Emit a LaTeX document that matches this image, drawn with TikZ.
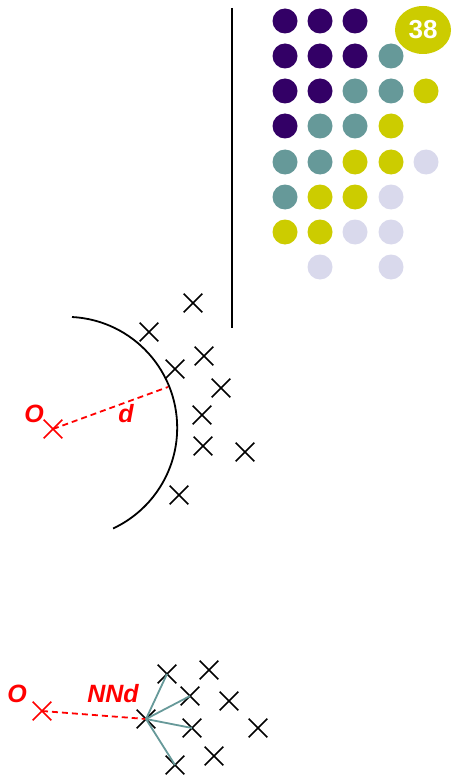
\documentclass[tikz,border=0pt]{standalone}
\usepackage{fontspec}
\setmainfont{Liberation Sans}
\usetikzlibrary{shapes.misc,shapes.geometric}
\definecolor{dpurple}{HTML}{330066}
\definecolor{dteal}{HTML}{669999}
\definecolor{dyellow}{HTML}{CCCC00}
\definecolor{dlav}{HTML}{D9D9EC}
\begin{document}
\begin{tikzpicture}[x=1pt,y=-1pt,
  xmark/.style={cross out, draw=black, line width=1.6pt, minimum size=17pt, inner sep=0pt},
  rmark/.style={cross out, draw=red, line width=1.6pt, minimum size=17pt, inner sep=0pt},
  dotP/.style={circle, fill=dpurple, minimum size=25pt, inner sep=0pt},
  dotT/.style={circle, fill=dteal, minimum size=25pt, inner sep=0pt},
  dotY/.style={circle, fill=dyellow, minimum size=25pt, inner sep=0pt},
  dotL/.style={circle, fill=dlav, minimum size=25pt, inner sep=0pt},
  redlab/.style={text=red, font=\fontsize{25}{25}\selectfont\bfseries\itshape, inner sep=0pt},
  reddash/.style={draw=red, line width=1.8pt, dash pattern=on 6pt off 4pt},
  tealline/.style={draw=dteal, line width=1.8pt},
  blackline/.style={draw=black, line width=1.8pt}
]
\useasboundingbox (0,0) rectangle (454,778);
% vertical line
\coordinate (vtop) at (232,8);
\coordinate (vbot) at (232,328);
\draw[blackline] (vtop) -- (vbot);
% dot grid
\node[dotP] (d11) at (285,21) {};
\node[dotP] (d12) at (320,21) {};
\node[dotP] (d13) at (355,21) {};
\node[dotP] (d21) at (285,56) {};
\node[dotP] (d22) at (320,56) {};
\node[dotP] (d23) at (355,56) {};
\node[dotT] (d24) at (391,56) {};
\node[dotP] (d31) at (285,91) {};
\node[dotP] (d32) at (320,91) {};
\node[dotT] (d33) at (355,91) {};
\node[dotT] (d34) at (391,91) {};
\node[dotY] (d35) at (426,91) {};
\node[dotP] (d41) at (285,126) {};
\node[dotT] (d42) at (320,126) {};
\node[dotT] (d43) at (355,126) {};
\node[dotY] (d44) at (391,126) {};
\node[dotT] (d51) at (285,162) {};
\node[dotT] (d52) at (320,162) {};
\node[dotY] (d53) at (355,162) {};
\node[dotY] (d54) at (391,162) {};
\node[dotL] (d55) at (426,162) {};
\node[dotT] (d61) at (285,197) {};
\node[dotY] (d62) at (320,197) {};
\node[dotY] (d63) at (355,197) {};
\node[dotL] (d64) at (391,197) {};
\node[dotY] (d71) at (285,232) {};
\node[dotY] (d72) at (320,232) {};
\node[dotL] (d73) at (355,232) {};
\node[dotL] (d74) at (391,232) {};
\node[dotL] (d82) at (320,267) {};
\node[dotL] (d84) at (391,267) {};
% badge
\node[ellipse, fill=dyellow, minimum width=56pt, minimum height=48pt, inner sep=0pt,
      text=white, font=\fontsize{26}{26}\selectfont\bfseries] (badge) at (423,30) {38};
% middle section
\node[xmark] (m1) at (193,303) {};
\node[xmark] (m2) at (149,332) {};
\node[xmark] (m3) at (204,356) {};
\node[xmark] (m4) at (175,369) {};
\node[xmark] (m5) at (221,388) {};
\node[xmark] (m6) at (202,415) {};
\node[xmark] (m7) at (203,446) {};
\node[xmark] (m8) at (245,452) {};
\node[xmark] (m9) at (179,495) {};
\node[rmark] (mO) at (53,429) {};
\node[redlab] (mOlab) at (34,414) {O};
\node[redlab] (mdlab) at (126,414) {d};
\coordinate (arcstart) at (72,317);
\draw[blackline] (arcstart) arc[start angle=-87, end angle=65, radius=111];
\coordinate (dend) at (168,387);
\draw[reddash] (mO.center) -- (dend);
% bottom section
\node[xmark] (b1) at (167,674) {};
\node[xmark] (b2) at (209,670) {};
\node[xmark] (b3) at (190,696) {};
\node[xmark] (b4) at (229,701) {};
\node[xmark] (b5) at (146,719) {};
\node[xmark] (b6) at (192,728) {};
\node[xmark] (b7) at (258,728) {};
\node[xmark] (b8) at (214,756) {};
\node[xmark] (b9) at (175,765) {};
\node[rmark] (bO) at (42,711) {};
\node[redlab] (bOlab) at (17,694) {O};
\node[redlab] (bNNd) at (113,694) {NNd};
\draw[reddash] (bO.center) -- (b5.center);
\draw[tealline] (b5.center) -- (b1.center);
\draw[tealline] (b5.center) -- (b3.center);
\draw[tealline] (b5.center) -- (b6.center);
\draw[tealline] (b5.center) -- (b9.center);
\end{tikzpicture}
\end{document}
